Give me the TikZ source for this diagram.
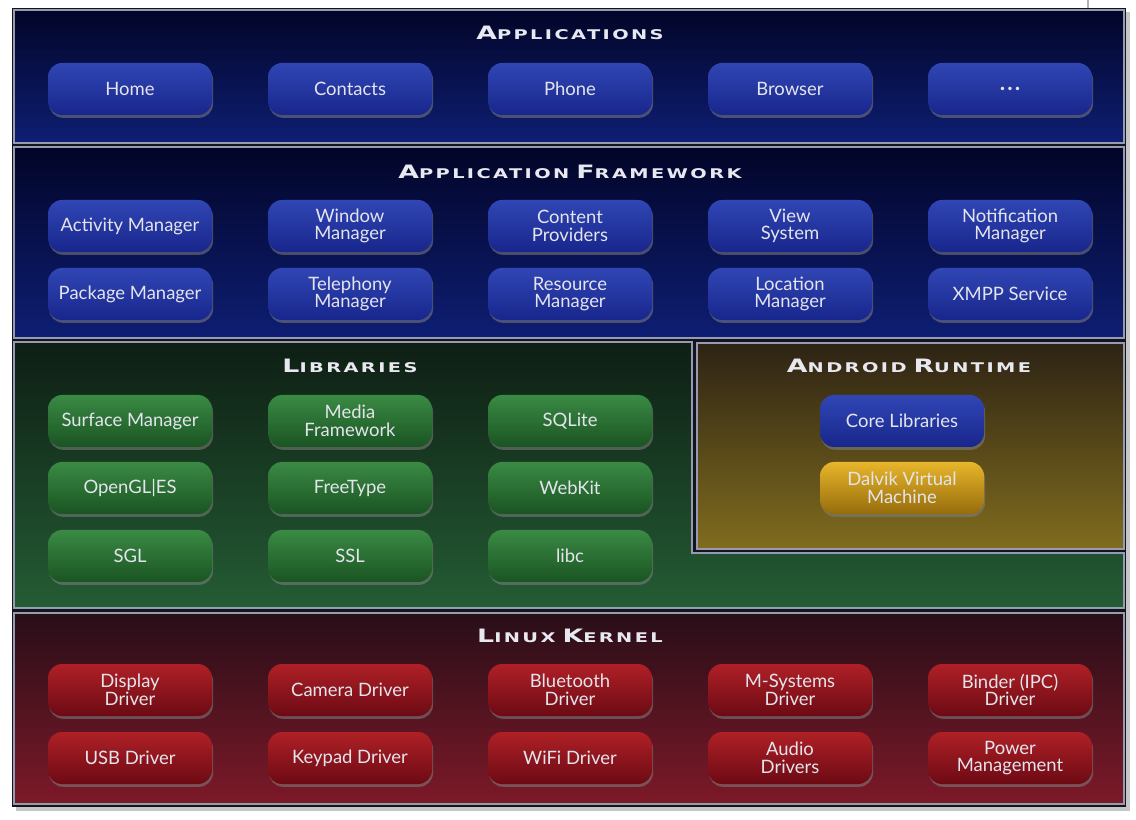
\documentclass[tikz,border=0pt]{standalone}
\usepackage{fontspec}
\setmainfont{Lato}
\newfontfamily\titlefont[FakeStretch=1.45,LetterSpace=18]{DejaVu Sans Bold}
\usetikzlibrary{shadows}
\definecolor{bgdark}{RGB}{20,20,30}
\definecolor{pborder}{RGB}{150,155,175}
\definecolor{navytop}{RGB}{2,5,40}
\definecolor{navybot}{RGB}{14,30,115}
\definecolor{libtop}{RGB}{14,30,20}
\definecolor{libbot}{RGB}{36,92,52}
\definecolor{rttop}{RGB}{45,35,20}
\definecolor{rtbot}{RGB}{128,108,30}
\definecolor{krtop}{RGB}{40,14,24}
\definecolor{krbot}{RGB}{125,25,40}
\definecolor{bluetop}{RGB}{48,70,180}
\definecolor{bluebot}{RGB}{24,38,140}
\definecolor{greentop}{RGB}{58,138,68}
\definecolor{greenbot}{RGB}{26,84,34}
\definecolor{redtop}{RGB}{175,32,38}
\definecolor{redbot}{RGB}{108,10,20}
\definecolor{goldtop}{RGB}{232,182,42}
\definecolor{goldbot}{RGB}{150,108,12}
\definecolor{btntext}{RGB}{228,228,236}
\definecolor{ttltext}{RGB}{232,232,240}
\newcommand\ttl[2]{{\titlefont\fontsize{10.5}{11}\selectfont #1\fontsize{7.6}{8}\selectfont #2}}
\tikzset{
  panel/.style={draw=pborder, line width=1.2pt},
  btn/.style={rounded corners=14*0.02cm, minimum width=164*0.02cm, minimum height=52*0.02cm,
    text=btntext, align=center, font=\fontsize{10.5}{10}\selectfont, inner sep=0pt,
    drop shadow={shadow xshift=0.6pt, shadow yshift=-1.6pt, opacity=0.55}},
  bluebtn/.style={btn, top color=bluetop, bottom color=bluebot},
  greenbtn/.style={btn, top color=greentop, bottom color=greenbot},
  redbtn/.style={btn, top color=redtop, bottom color=redbot},
  goldbtn/.style={btn, top color=goldtop, bottom color=goldbot},
  title/.style={text=ttltext, inner sep=0pt}
}
\begin{document}
\begin{tikzpicture}[x=0.02cm,y=-0.02cm]
\useasboundingbox (0,0) rectangle (1136,820);
\fill[white] (0,0) rectangle (1136,820);
% small artefact line at top right
\draw[gray!60, line width=0.6pt] (1088,0) -- (1088,10);
% outer frame with shadow
\fill[bgdark, drop shadow={shadow xshift=2pt, shadow yshift=-2pt, opacity=0.45}] (12,8) rectangle (1126,807);
% panels
\draw[panel, top color=navytop, bottom color=navybot] (14,10) rectangle (1124,143);
\draw[panel, top color=navytop, bottom color=navybot] (14,147) rectangle (1124,338);
\draw[panel, top color=libtop, bottom color=libbot] (14,342) -- (692,342) -- (692,553) -- (1124,553) -- (1124,608) -- (14,608) -- cycle;
\draw[panel, top color=rttop, bottom color=rtbot] (697,343) rectangle (1124,549);
\draw[panel, top color=krtop, bottom color=krbot] (14,613) rectangle (1124,804);
% titles
\node[title] (tApps) at (570,33) {\ttl{A}{PPLICATIONS}};
\node[title] (tFw) at (570,172) {\ttl{A}{PPLICATION}\hspace{4pt}\ttl{F}{RAMEWORK}};
\node[title] (tLib) at (350,366) {\ttl{L}{IBRARIES}};
\node[title] (tRt) at (909,366) {\ttl{A}{NDROID}\hspace{4pt}\ttl{R}{UNTIME}};
\node[title] (tKr) at (570,636) {\ttl{L}{INUX}\hspace{4pt}\ttl{K}{ERNEL}};
% applications
\node[bluebtn] (home) at (130,89) {Home};
\node[bluebtn] (contacts) at (350,89) {Contacts};
\node[bluebtn] (phone) at (570,89) {Phone};
\node[bluebtn] (browser) at (790,89) {Browser};
\node[bluebtn] (more) at (1010,89) {\fontsize{13}{13}\selectfont\bfseries .\hspace{1.2pt}.\hspace{1.2pt}.};
% framework
\node[bluebtn] (am) at (130,226) {Activity Manager};
\node[bluebtn] (wm) at (350,226) {Window\\Manager};
\node[bluebtn] (cp) at (570,226) {Content\\Providers};
\node[bluebtn] (vs) at (790,226) {View\\System};
\node[bluebtn] (nm) at (1010,226) {Notification\\Manager};
\node[bluebtn] (pm) at (130,294) {Package Manager};
\node[bluebtn] (tm) at (350,294) {Telephony\\Manager};
\node[bluebtn] (rm) at (570,294) {Resource\\Manager};
\node[bluebtn] (lm) at (790,294) {Location\\Manager};
\node[bluebtn] (xmpp) at (1010,294) {XMPP Service};
% libraries
\node[greenbtn] (sm) at (130,421) {Surface Manager};
\node[greenbtn] (mf) at (350,421) {Media\\Framework};
\node[greenbtn] (sqlite) at (570,421) {SQLite};
\node[greenbtn] (gl) at (130,488) {OpenGL|ES};
\node[greenbtn] (ft) at (350,488) {FreeType};
\node[greenbtn] (wk) at (570,488) {WebKit};
\node[greenbtn] (sgl) at (130,556) {SGL};
\node[greenbtn] (ssl) at (350,556) {SSL};
\node[greenbtn] (libc) at (570,556) {libc};
% runtime
\node[bluebtn] (core) at (902,421) {Core Libraries};
\node[goldbtn] (dalvik) at (902,488) {Dalvik Virtual\\Machine};
% kernel
\node[redbtn] (dd) at (130,690) {Display\\Driver};
\node[redbtn] (cd) at (350,690) {Camera Driver};
\node[redbtn] (bd) at (570,690) {Bluetooth\\Driver};
\node[redbtn] (msd) at (790,690) {M-Systems\\Driver};
\node[redbtn] (bind) at (1010,690) {Binder (IPC)\\Driver};
\node[redbtn] (usb) at (130,758) {USB Driver};
\node[redbtn] (kd) at (350,758) {Keypad Driver};
\node[redbtn] (wifi) at (570,758) {WiFi Driver};
\node[redbtn] (ad) at (790,758) {Audio\\Drivers};
\node[redbtn] (pwr) at (1010,758) {Power\\Management};
\end{tikzpicture}
\end{document}
